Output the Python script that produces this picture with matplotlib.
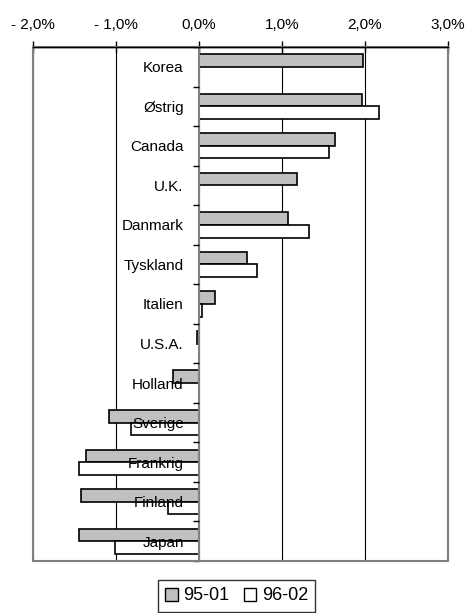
import matplotlib
matplotlib.use("Agg")
import matplotlib.pyplot as plt
import matplotlib.patches as patches
import numpy as np

plt.rcParams['font.family'] = ['Liberation Sans', 'DejaVu Sans']

# Data (%)
countries = ['Korea', 'Østrig', 'Canada', 'U.K.', 'Danmark', 'Tyskland', 'Italien',
             'U.S.A.', 'Holland', 'Sverige', 'Frankrig', 'Finland', 'Japan']
vals_95_01 = [1.98, 1.96, 1.64, 1.18, 1.07, 0.58, 0.19, -0.03, -0.31, -1.09, -1.36, -1.42, -1.45]
vals_96_02 = [np.nan, 2.17, 1.57, np.nan, 1.32, 0.70, 0.04, np.nan, np.nan, -0.82, -1.45, -0.37, -1.01]
series_names = ['95-01', '96-02']
x_ticks = [-2, -1, 0, 1, 2, 3]
x_labels = ['- 2,0%', '- 1,0%', '0,0%', '1,0%', '2,0%', '3,0%']

GRAY = '#808080'
BAR_GRAY = '#C0C0C0'

fig = plt.figure(figsize=(4.66, 6.13), dpi=100)
ax = fig.add_axes([33 / 466, 1 - 561 / 613, (448 - 33) / 466, (561 - 47) / 613])

y = np.arange(len(countries))
h = 0.32
ax.barh(y - h / 2, vals_95_01, height=h, color=BAR_GRAY, edgecolor='black',
        linewidth=1.2, label=series_names[0], zorder=3)
ax.barh(y + h / 2, vals_96_02, height=h, color='white', edgecolor='black',
        linewidth=1.2, label=series_names[1], zorder=3)

ax.set_xlim(x_ticks[0], x_ticks[-1])
ax.set_ylim(len(countries) - 0.5, -0.5)

# x axis on top
ax.xaxis.tick_top()
ax.set_xticks(x_ticks)
ax.set_xticklabels(x_labels, fontsize=11)
ax.tick_params(axis='x', direction='inout', length=9, width=1, pad=6, color='black')
ax.grid(axis='x', color='black', linewidth=0.8)
ax.xaxis.set_zorder(1)
ax.spines['top'].set_color('black')
ax.spines['top'].set_linewidth(1)

# y axis sits at zero, labels drawn over the bars
ax.spines['left'].set_position(('data', 0))
ax.spines['left'].set_color(GRAY)
ax.spines['left'].set_linewidth(1.5)
ax.spines['left'].set_zorder(4)
ax.set_yticks(y)
ax.set_yticklabels(countries, fontsize=11)
ax.set_yticks(np.arange(len(countries) + 1) - 0.5, minor=True)
ax.tick_params(axis='y', which='major', length=0, pad=11)
ax.tick_params(axis='y', which='minor', length=4, width=1, color='black', direction='out')
ax.yaxis.set_zorder(5)

ax.spines['right'].set_visible(False)
ax.spines['bottom'].set_visible(False)
ax.add_patch(patches.Rectangle((0, 0), 1, 1, transform=ax.transAxes, fill=False,
                               edgecolor=GRAY, linewidth=1.5, zorder=6, clip_on=False))
ax.plot([0, 1], [1, 1], transform=ax.transAxes, color='black', lw=1, zorder=7, clip_on=False)

leg = fig.legend(loc='center', bbox_to_anchor=(236.5 / 466, 1 - 596 / 613), ncol=2,
                 fontsize=13, frameon=True, fancybox=False, edgecolor='black',
                 handlelength=0.7, handleheight=0.7, handletextpad=0.3,
                 columnspacing=0.8, borderpad=0.4, borderaxespad=0)
leg.get_frame().set_linewidth(1)
for p in leg.get_patches():
    p.set_linewidth(1)

fig.savefig('out.png', dpi=100, facecolor='white')
